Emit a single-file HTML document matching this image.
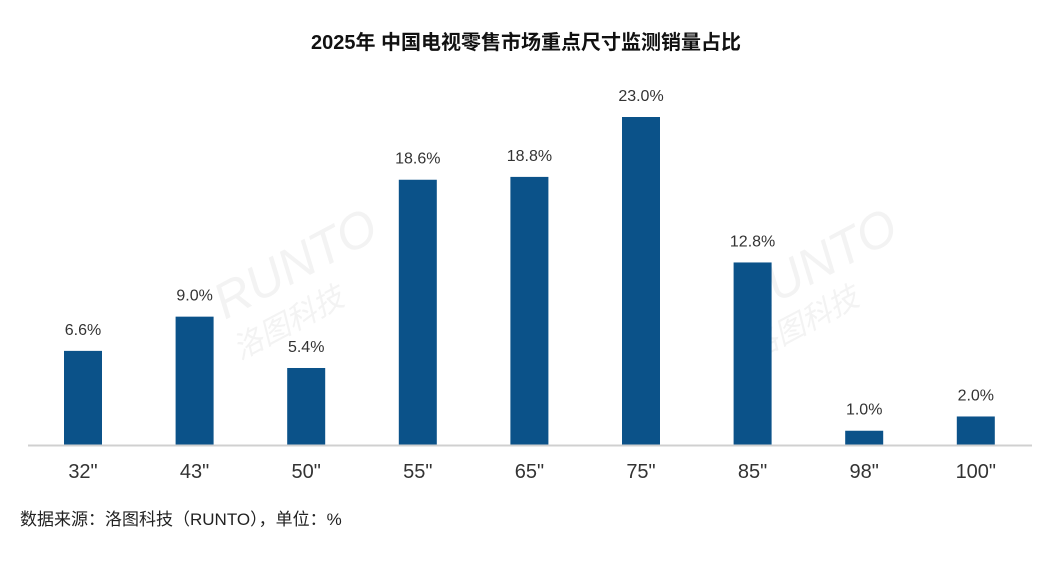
<!DOCTYPE html>
<html><head><meta charset="utf-8"><style>
body{margin:0;background:#fff;width:1052px;height:556px;overflow:hidden;font-family:"Liberation Sans","Noto Sans CJK SC",sans-serif}
</style></head><body>
<svg width="1052" height="556">
<text x="526" y="49" text-anchor="middle" font-size="20" font-weight="bold" fill="#111" font-family="Liberation Sans, Noto Sans CJK SC, sans-serif">2025年 中国电视零售市场重点尺寸监测销量占比</text>
<g opacity="0.08" fill="#666" font-style="italic">
<text x="225" y="320" font-size="50" transform="rotate(-28 225 320)">RUNTO</text>
<text x="240" y="360" font-size="30" transform="rotate(-28 240 360)">洛图科技</text>
<text x="745" y="320" font-size="50" transform="rotate(-28 745 320)">RUNTO</text>
<text x="755" y="360" font-size="30" transform="rotate(-28 755 360)">洛图科技</text>
</g>
<g id="bars"></g>
<line x1="28" y1="445.5" x2="1032" y2="445.5" stroke="#d0d0d0" stroke-width="2"/>
<text x="20" y="525" font-size="17" fill="#222" font-family="Liberation Sans, Noto Sans CJK SC, sans-serif">数据来源：洛图科技（RUNTO），单位：%</text>
</svg>
<script>
const categories=['32"','43"','50"','55"','65"','75"','85"','98"','100"'];
const values=[6.6,9.0,5.4,18.6,18.8,23.0,12.8,1.0,2.0];
const labels=['6.6%','9.0%','5.4%','18.6%','18.8%','23.0%','12.8%','1.0%','2.0%'];
const base=445,scale=328/23,x0=83,step=111.6,bw=38;
const g=document.getElementById('bars');
const NS='http://www.w3.org/2000/svg';
const y=v=>base-v*scale, x=i=>x0+i*step;
categories.forEach((c,i)=>{
 const r=document.createElementNS(NS,'rect');
 r.setAttribute('x',x(i)-bw/2);r.setAttribute('y',y(values[i]));
 r.setAttribute('width',bw);r.setAttribute('height',base-y(values[i]));
 r.setAttribute('fill','#0b5289');
 
 
 g.appendChild(r);
 const t=document.createElementNS(NS,'text');
 t.setAttribute('x',x(i));t.setAttribute('y',y(values[i])-16);
 t.setAttribute('text-anchor','middle');t.setAttribute('font-size','16');t.setAttribute('fill','#333');
 t.textContent=labels[i];
 
 
 g.appendChild(t);
 const a=document.createElementNS(NS,'text');
 a.setAttribute('x',x(i));a.setAttribute('y',478);
 a.setAttribute('text-anchor','middle');a.setAttribute('font-size','20');a.setAttribute('fill','#333');
 a.textContent=c;
 
 
 g.appendChild(a);
});
</script>
</body></html>
